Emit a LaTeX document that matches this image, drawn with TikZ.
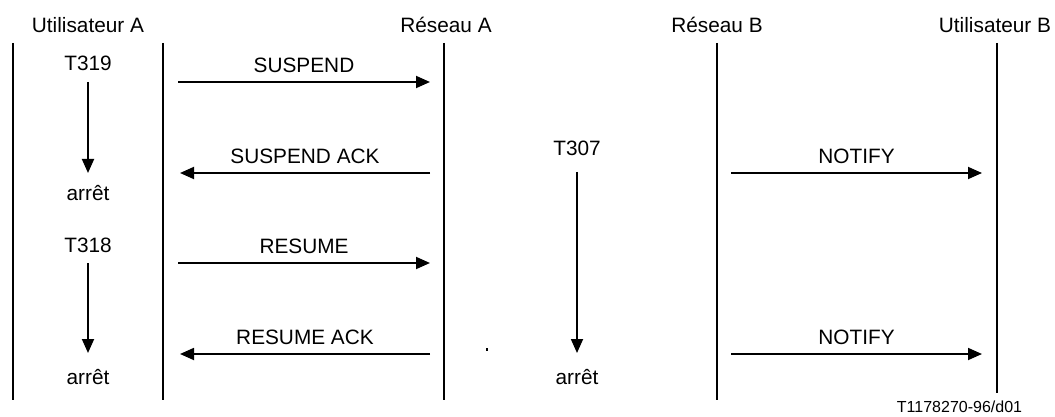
\documentclass[tikz,border=0pt]{standalone}
\usepackage{fontspec}
\setmainfont{Liberation Sans}
\usetikzlibrary{arrows.meta}
\begin{document}
\begin{tikzpicture}[x=1pt,y=-1pt,line width=1.8pt,
    txt/.style={font=\fontsize{20.8}{25}\selectfont, inner sep=0pt},
    msg/.style={draw, -{Triangle[length=14pt,width=12pt]}},
    lbl/.style={txt, above=8pt}]

        \useasboundingbox (0,0) rectangle (1055,417);

        \begin{scope}[every node/.style={txt}]
          \node (ua)  at (88,25)  {Utilisateur A};
          \node (ra)  at (446,25) {Réseau A};
          \node (rb)  at (717,25) {Réseau B};
          \node (ub)  at (995,25) {Utilisateur B};
          \node (t319) at (88,63)   {T319};
          \node (st1)  at (88,193)  {arrêt};
          \node (t318) at (88,245)  {T318};
          \node (st2)  at (88,377)  {arrêt};
          \node (t307) at (577,148) {T307};
          \node (st3)  at (577,377) {arrêt};
          \node[font=\fontsize{16}{19}\selectfont, anchor=east] (fig) at (1023,407) {T1178270-96/d01};
        \end{scope}

        % lifelines
        \coordinate (l1a) at (13,43);   \coordinate (l1b) at (13,400);
        \coordinate (l2a) at (163,43);  \coordinate (l2b) at (163,400);
        \coordinate (l3a) at (444,43);  \coordinate (l3b) at (444,400);
        \coordinate (l4a) at (717,43);  \coordinate (l4b) at (717,400);
        \coordinate (l5a) at (997,43);  \coordinate (l5b) at (997,393);

        % timers
        \coordinate (t1a) at (88,82);   \coordinate (t1b) at (88,173);
        \coordinate (t2a) at (88,263);  \coordinate (t2b) at (88,353);
        \coordinate (t3a) at (577,172); \coordinate (t3b) at (577,353);

        % messages
        \coordinate (a1) at (178,82);   \coordinate (b1) at (430,82);
        \coordinate (a2) at (180,173);  \coordinate (b2) at (430,173);
        \coordinate (a3) at (178,263);  \coordinate (b3) at (430,263);
        \coordinate (a4) at (180,354);  \coordinate (b4) at (430,354);
        \coordinate (c1) at (731,173);  \coordinate (d1) at (982,173);
        \coordinate (c2) at (731,354);  \coordinate (d2) at (982,354);

        \begin{scope}[every edge/.style={draw}]
          \path (l1a) edge (l1b);
          \path (l2a) edge (l2b);
          \path (l3a) edge (l3b);
          \path (l4a) edge (l4b);
          \path (l5a) edge (l5b);
        \end{scope}

        \begin{scope}[every edge/.style={msg}]
          \path (t1a) edge (t1b);
          \path (t2a) edge (t2b);
          \path (t3a) edge (t3b);
          \path (a1) edge node[lbl] {SUSPEND} (b1);
          \path (b2) edge node[lbl] {SUSPEND ACK} (a2);
          \path (a3) edge node[lbl] {RESUME} (b3);
          \path (b4) edge node[lbl] {RESUME ACK} (a4);
          \path (c1) edge node[lbl] {NOTIFY} (d1);
          \path (c2) edge node[lbl] {NOTIFY} (d2);
        \end{scope}

        \fill (486,348) rectangle (488,351);

      \end{tikzpicture}
\end{document}
